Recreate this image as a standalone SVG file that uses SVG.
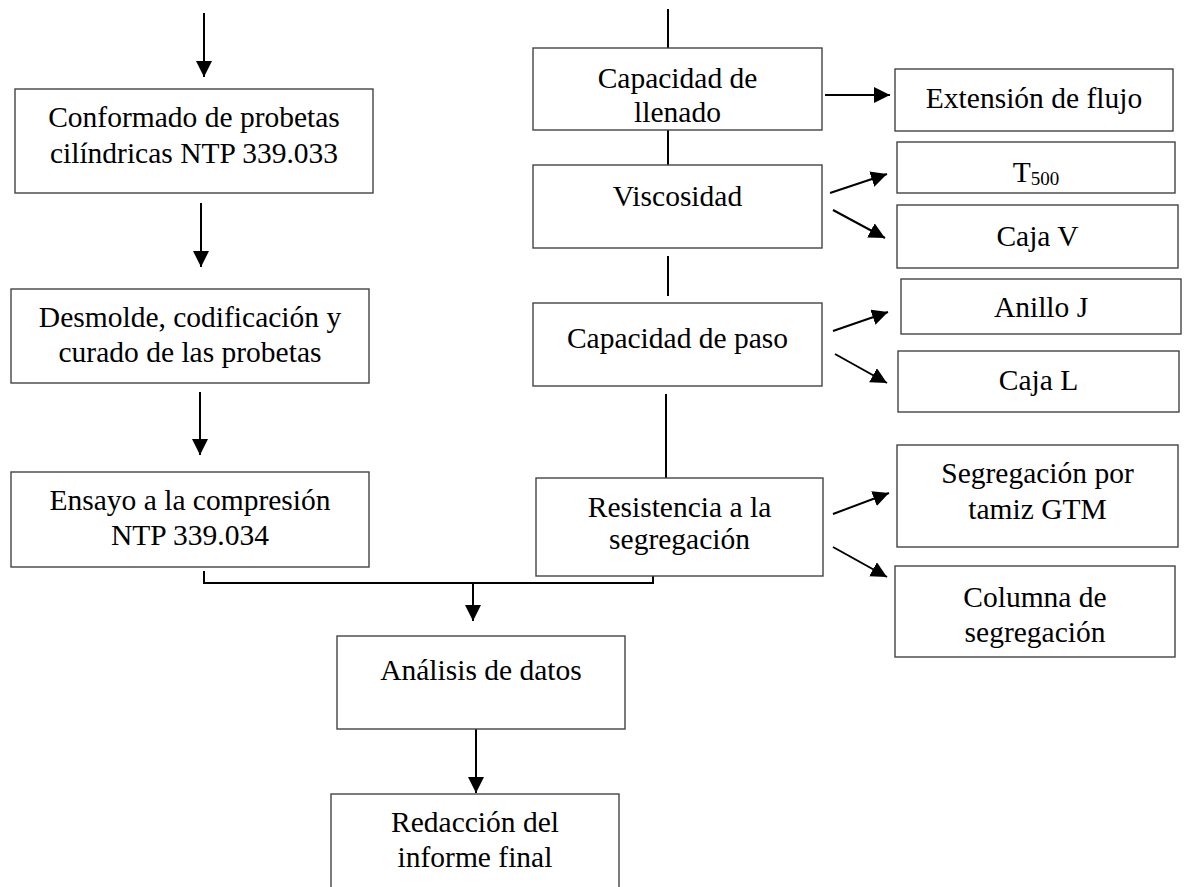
<svg xmlns="http://www.w3.org/2000/svg" width="1184" height="887" viewBox="0 0 1184 887">
  <defs>
    <style>
      .box { fill: #ffffff; stroke: #444444; stroke-width: 1.4; }
      .lbl { font-family: "Liberation Serif", "Times New Roman", serif; font-size: 29.5px; fill: #000000; text-anchor: middle; }
      .sub { font-size: 19px; }
      .wire { fill: none; stroke: #000000; stroke-width: 2; }
      .arrow { marker-end: url(#head); }
    </style>
    <marker id="head" markerUnits="userSpaceOnUse" markerWidth="18" markerHeight="18" viewBox="0 0 18 18" refX="16" refY="8" orient="auto">
      <path d="M0,0 L16,8 L0,16 Z" fill="#000000"/>
    </marker>
  </defs>
  <rect width="1184" height="887" fill="#ffffff"/>

  <!-- connectors -->
  <g id="connectors">
    <!-- left column -->
    <path class="wire arrow" d="M204,13 V77"/>
    <path class="wire arrow" d="M201,203 V267"/>
    <path class="wire arrow" d="M200,392 V455"/>
    <!-- join of both branches -->
    <path class="wire" d="M204,571 V583 H653 V571"/>
    <path class="wire arrow" d="M473,583 V621"/>
    <path class="wire arrow" d="M476,729 V793"/>
    <!-- right column spine -->
    <path class="wire" d="M668,9 V48"/>
    <path class="wire" d="M668,130 V165"/>
    <path class="wire" d="M668,256 V296"/>
    <path class="wire" d="M666,394 V478"/>
    <!-- tests -->
    <path class="wire arrow" d="M825,95 H890"/>
    <path class="wire arrow" d="M830,193 L887,174"/>
    <path class="wire arrow" d="M833,210 L885,238"/>
    <path class="wire arrow" d="M833,331 L888,312"/>
    <path class="wire arrow" d="M835,354 L887,383"/>
    <path class="wire arrow" d="M833,514 L889,493"/>
    <path class="wire arrow" d="M833,547 L887,577"/>
  </g>

  <g id="conformado">
    <rect class="box" x="15" y="89" width="358" height="104"/>
    <text class="lbl" x="194" y="127">Conformado de probetas</text>
    <text class="lbl" x="194" y="163">cilíndricas NTP 339.033</text>
  </g>
  <g id="desmolde">
    <rect class="box" x="11" y="289" width="358" height="94"/>
    <text class="lbl" x="190" y="327">Desmolde, codificación y</text>
    <text class="lbl" x="190" y="362">curado de las probetas</text>
  </g>
  <g id="ensayo">
    <rect class="box" x="11" y="472" width="358" height="95"/>
    <text class="lbl" x="190" y="510">Ensayo a la compresión</text>
    <text class="lbl" x="190" y="545">NTP 339.034</text>
  </g>

  <g id="llenado">
    <rect class="box" x="533" y="48" width="289" height="82"/>
    <text class="lbl" x="677.5" y="88">Capacidad de</text>
    <text class="lbl" x="677.5" y="122">llenado</text>
  </g>
  <g id="viscosidad">
    <rect class="box" x="533" y="165" width="289" height="83"/>
    <text class="lbl" x="677.5" y="206">Viscosidad</text>
  </g>
  <g id="paso">
    <rect class="box" x="533" y="303" width="289" height="83"/>
    <text class="lbl" x="677.5" y="348">Capacidad de paso</text>
  </g>
  <g id="resistencia">
    <rect class="box" x="536" y="478" width="287" height="98"/>
    <text class="lbl" x="679.5" y="517">Resistencia a la</text>
    <text class="lbl" x="679.5" y="549">segregación</text>
  </g>

  <g id="extension">
    <rect class="box" x="895" y="69" width="278" height="62"/>
    <text class="lbl" x="1034" y="108">Extensión de flujo</text>
  </g>
  <g id="t500">
    <rect class="box" x="897" y="142" width="278" height="51"/>
    <text class="lbl" x="1036" y="182">T<tspan class="sub" dy="3">500</tspan></text>
  </g>
  <g id="caja-v">
    <rect class="box" x="897" y="205" width="281" height="63"/>
    <text class="lbl" x="1037.5" y="246">Caja V</text>
  </g>
  <g id="anillo-j">
    <rect class="box" x="901" y="279" width="280" height="55"/>
    <text class="lbl" x="1041" y="317">Anillo J</text>
  </g>
  <g id="caja-l">
    <rect class="box" x="898" y="351" width="281" height="61"/>
    <text class="lbl" x="1038.5" y="390">Caja L</text>
  </g>
  <g id="tamiz-gtm">
    <rect class="box" x="897" y="445" width="281" height="102"/>
    <text class="lbl" x="1037.5" y="483">Segregación por</text>
    <text class="lbl" x="1037.5" y="519">tamiz GTM</text>
  </g>
  <g id="columna">
    <rect class="box" x="895" y="566" width="280" height="91"/>
    <text class="lbl" x="1035" y="607">Columna de</text>
    <text class="lbl" x="1035" y="642">segregación</text>
  </g>

  <g id="analisis">
    <rect class="box" x="337" y="636" width="288" height="93"/>
    <text class="lbl" x="481" y="680">Análisis de datos</text>
  </g>
  <g id="redaccion">
    <rect class="box" x="331" y="794" width="288" height="110"/>
    <text class="lbl" x="475" y="832">Redacción del</text>
    <text class="lbl" x="475" y="867">informe final</text>
  </g>
</svg>
